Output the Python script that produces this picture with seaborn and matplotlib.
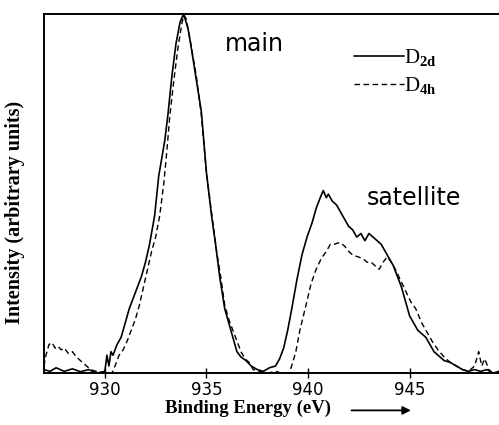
import numpy as np
import pandas as pd
import matplotlib
matplotlib.use("Agg")
import matplotlib.pyplot as plt
import seaborn as sns

# D2d spectrum (solid)
d2d_energy = [927.0, 927.3, 927.6, 928.0, 928.4, 928.8, 929.2, 929.6, 930.0, 930.1,
              930.2, 930.3, 930.4, 930.6, 930.8, 931.0, 931.2, 931.4, 931.6, 931.8,
              932.0, 932.2, 932.45, 932.65, 932.8, 932.95, 933.1, 933.3, 933.5, 933.7,
              933.85, 933.95, 934.1, 934.25, 934.5, 934.75, 935.0, 935.25, 935.45, 935.65,
              935.9, 936.1, 936.3, 936.5, 936.7, 936.95, 937.2, 937.5, 937.8, 938.1,
              938.4, 938.6, 938.8, 939.0, 939.2, 939.45, 939.7, 939.95, 940.2, 940.4,
              940.6, 940.75, 940.9, 941.0, 941.2, 941.4, 941.6, 941.8, 942.0, 942.2,
              942.4, 942.6, 942.8, 943.0, 943.2, 943.4, 943.6, 943.8, 944.0, 944.2,
              944.4, 944.6, 944.8, 945.0, 945.2, 945.4, 945.6, 945.8, 946.0, 946.2,
              946.4, 946.7, 947.0, 947.3, 947.6, 947.9, 948.2, 948.5, 948.8, 949.1, 949.4]
d2d_intensity = [0.01, 0.005, 0.015, 0.005, 0.012, 0.004, 0.01, 0.0, 0.005, 0.05,
                 0.02, 0.06, 0.05, 0.08, 0.10, 0.14, 0.18, 0.21, 0.24, 0.27,
                 0.31, 0.36, 0.44, 0.55, 0.60, 0.65, 0.72, 0.83, 0.92, 0.98,
                 1.0, 0.99, 0.96, 0.91, 0.82, 0.73, 0.56, 0.44, 0.36, 0.27,
                 0.18, 0.14, 0.10, 0.06, 0.045, 0.035, 0.02, 0.01, 0.005, 0.015,
                 0.02, 0.04, 0.07, 0.12, 0.18, 0.26, 0.33, 0.38, 0.42, 0.46,
                 0.49, 0.51, 0.49, 0.50, 0.48, 0.47, 0.45, 0.43, 0.41, 0.40,
                 0.38, 0.39, 0.37, 0.39, 0.38, 0.37, 0.36, 0.34, 0.32, 0.30,
                 0.27, 0.24, 0.20, 0.16, 0.14, 0.12, 0.11, 0.10, 0.08, 0.06,
                 0.05, 0.035, 0.03, 0.02, 0.01, 0.005, 0.01, 0.005, 0.01, 0.0, 0.005]

# D4h spectrum (dashed)
d4h_energy = [927.0, 927.1, 927.25, 927.4, 927.55, 927.7, 927.85, 928.0, 928.2, 928.4,
              928.6, 928.8, 929.0, 929.2, 929.4, 929.7, 930.0, 930.35, 930.5, 930.7,
              930.9, 931.1, 931.3, 931.5, 931.7, 931.9, 932.1, 932.3, 932.5, 932.7,
              932.9, 933.05, 933.2, 933.4, 933.6, 933.8, 933.9, 934.0, 934.2, 934.5,
              934.75, 935.0, 935.25, 935.5, 935.7, 935.9, 936.1, 936.3, 936.5, 936.7,
              936.9, 937.1, 937.3, 937.6, 938.0, 938.4, 938.7, 939.07, 939.25, 939.4,
              939.6, 939.9, 940.15, 940.4, 940.65, 940.9, 941.1, 941.3, 941.55, 941.8,
              942.0, 942.2, 942.45, 942.7, 942.9, 943.1, 943.3, 943.5, 943.7, 943.9,
              944.1, 944.3, 944.55, 944.8, 945.05, 945.3, 945.6, 945.9, 946.15, 946.4,
              946.7, 947.0, 947.3, 947.6, 947.9, 948.2, 948.4, 948.55, 948.7, 948.9,
              949.1, 949.4]
d4h_intensity = [0.02, 0.05, 0.08, 0.085, 0.07, 0.075, 0.065, 0.07, 0.055, 0.06,
                 0.045, 0.035, 0.025, 0.015, 0.008, 0.003, 0.0, 0.0, 0.02, 0.05,
                 0.065, 0.09, 0.12, 0.15, 0.19, 0.24, 0.29, 0.34, 0.38, 0.44,
                 0.53, 0.62, 0.72, 0.82, 0.91, 0.98, 1.0, 0.99, 0.93, 0.83,
                 0.72, 0.56, 0.45, 0.34, 0.27, 0.19, 0.15, 0.12, 0.09, 0.06,
                 0.04, 0.03, 0.01, 0.005, 0.0, 0.005, 0.0, 0.0, 0.03, 0.06,
                 0.12, 0.19, 0.25, 0.29, 0.32, 0.34, 0.36, 0.36, 0.365, 0.355,
                 0.34, 0.33, 0.325, 0.32, 0.31, 0.31, 0.30, 0.29, 0.31, 0.325,
                 0.31, 0.29, 0.26, 0.23, 0.20, 0.18, 0.14, 0.11, 0.085, 0.065,
                 0.045, 0.03, 0.02, 0.01, 0.005, 0.02, 0.06, 0.02, 0.04, 0.01,
                 0.0, 0.0]

x_ticks = [930, 935, 940, 945]

sns.set_style("ticks")
plt.rcParams["text.color"] = "black"
plt.rcParams["axes.labelcolor"] = "black"
plt.rcParams["xtick.color"] = "black"
plt.rcParams["mathtext.fontset"] = "custom"
plt.rcParams["mathtext.rm"] = "Liberation Serif"
plt.rcParams["mathtext.bf"] = "Liberation Serif:bold"

fig = plt.figure(figsize=(4.99, 4.25), dpi=100)
ax = fig.add_axes([0.088, 0.122, 0.912, 0.845])

sns.lineplot(x=d2d_energy, y=d2d_intensity, ax=ax, color="black", lw=1.2,
             label="D$_{\\mathbf{2d}}$")
sns.lineplot(x=d4h_energy, y=d4h_intensity, ax=ax, color="black", lw=1.0,
             linestyle=(0, (4, 2.5)), label="D$_{\\mathbf{4h}}$")

ax.set_xlim(927.0, 949.4)
ax.set_ylim(0, 1.003)
ax.set_xticks(x_ticks)
ax.set_xticklabels([str(t) for t in x_ticks], fontsize=12, family="DejaVu Sans")
ax.set_yticks([])
ax.tick_params(axis="x", direction="inout", length=7, width=1, pad=2, colors="black")
for side in ["left", "bottom", "top"]:
    ax.spines[side].set_linewidth(1.4)
    ax.spines[side].set_color("black")
ax.spines["right"].set_visible(False)

ax.set_xlabel("Binding Energy (eV)", fontsize=13.5, fontweight="bold",
              family="Liberation Serif", va="center", color="black")
ax.xaxis.set_label_coords(0.448, -0.0975)
ax.set_ylabel("Intensity (arbitrary units)", fontsize=14.5, fontweight="bold",
              family="Liberation Serif", va="center", color="black")
ax.yaxis.set_label_coords(-0.064, 0.448)

ax.text(937.35, 0.92, "main", fontsize=17, family="DejaVu Sans", ha="center",
        va="center", color="black")
ax.text(942.9, 0.49, "satellite", fontsize=17, family="DejaVu Sans", ha="left",
        va="center", color="black")

# arrow after the x label
ax.annotate("", xy=(945.2, -0.104), xytext=(942.0, -0.104),
            xycoords="data", textcoords="data", annotation_clip=False,
            arrowprops=dict(arrowstyle="-|>", color="black", lw=1.3,
                            mutation_scale=12))

leg = ax.legend(loc="upper left", bbox_to_anchor=(0.64, 0.96), frameon=False,
                handlelength=2.4, handletextpad=0.0, labelspacing=0.3,
                prop={"family": "Liberation Serif", "size": 15})
for t in leg.get_texts():
    t.set_color("black")

plt.savefig("out.png", dpi=100)
